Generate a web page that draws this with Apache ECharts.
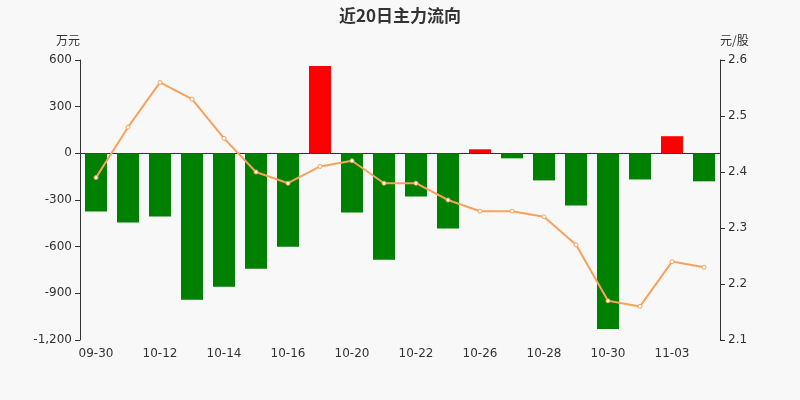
<!DOCTYPE html>
<html><head><meta charset="utf-8">
<script src="https://cdn.jsdelivr.net/npm/echarts@6/dist/echarts.min.js"></script>
<style>html,body{margin:0;padding:0;background:#f8f8f8}#c{width:800px;height:400px}</style>
</head><body><div id="c"></div>
<script>
const categories=['09-30','10-09','10-12','10-13','10-14','10-15','10-16','10-19','10-20','10-21','10-22','10-23','10-26','10-27','10-28','10-29','10-30','11-02','11-03','11-04'];
const flowValues=[-374,-445,-406,-942,-858,-742,-600,561,-380,-684,-277,-484,26,-32,-174,-335,-1129,-168,110,-180];
const priceValues=[2.39,2.48,2.56,2.53,2.46,2.40,2.38,2.41,2.42,2.38,2.38,2.35,2.33,2.33,2.32,2.27,2.17,2.16,2.24,2.23];
const chart=echarts.init(document.getElementById('c'));
const txt={color:'#333',fontFamily:'DejaVu Sans',fontSize:12};
chart.setOption({
  backgroundColor:'#f8f8f8',animation:false,
  title:{text:'近20日主力流向',left:'center',top:2,textStyle:{fontSize:17,fontWeight:'bold',color:'#333',fontFamily:'Noto Sans CJK SC'}},
  grid:{left:80,right:80,top:60,bottom:60},
  xAxis:{type:'category',data:categories,axisLine:{lineStyle:{color:'#333'}},axisTick:{interval:1,lineStyle:{color:'#333'}},axisLabel:Object.assign({interval:1},txt)},
  yAxis:[
    {type:'value',min:-1200,max:600,interval:300,name:'万元',nameGap:14,nameTextStyle:{color:'#333',align:'right',fontFamily:'Noto Sans CJK SC'},splitLine:{show:false},axisLine:{show:true,lineStyle:{color:'#333'}},axisTick:{show:true},axisLabel:txt},
    {type:'value',min:2.1,max:2.6,interval:0.1,name:'元/股',nameGap:14,nameTextStyle:{color:'#333',align:'left',fontFamily:'Noto Sans CJK SC'},splitLine:{show:false},axisLine:{show:true,lineStyle:{color:'#333'}},axisTick:{show:true},axisLabel:Object.assign({formatter:v=>v.toFixed(1)},txt)}
  ],
  series:[
    {type:'bar',data:flowValues,barWidth:22,itemStyle:{color:p=>p.value>=0?'#ff0000':'#008000'}},
    {type:'line',yAxisIndex:1,data:priceValues,symbol:'circle',symbolSize:4,itemStyle:{color:'#fff',borderColor:'#f7a35c',borderWidth:1},lineStyle:{color:'#f7a35c',width:2}}
  ]
});
</script></body></html>
